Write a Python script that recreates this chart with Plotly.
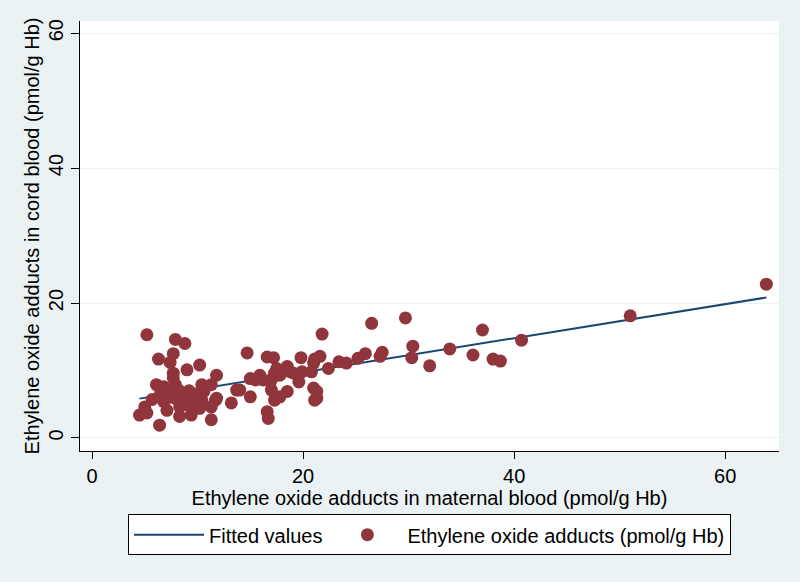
import numpy as np
import plotly.graph_objects as go

# maternal blood (x) and cord blood (y) ethylene oxide adducts, pmol/g Hb
maternal = [63.9, 51.0, 40.7, 37.0, 38.0, 38.7, 36.1, 33.9, 32.0, 30.4, 30.3, 29.7, 27.5, 27.3, 26.5,
            25.9, 25.2, 24.1, 23.4, 22.4, 21.8, 21.6, 21.1, 21.0, 20.8, 21.0, 21.3, 21.1, 21.3, 19.8,
            19.9, 19.6, 19.1, 18.8, 18.5, 18.5, 17.8, 17.5, 17.3, 17.2, 17.2, 16.6, 16.9, 16.2, 15.9,
            15.5, 15.0, 17.8, 17.3, 17.0, 15.0, 14.0, 16.6, 16.7, 14.7,
            5.2, 7.9, 8.8, 7.7, 6.3, 7.4, 10.2, 9.0, 11.8, 7.7, 7.7, 6.1, 6.8, 7.9, 8.2, 10.4, 11.3,
            10.6, 13.7, 11.8, 13.2, 5.7, 5.0, 4.5, 5.2, 6.4, 8.3, 9.4, 11.3, 7.1, 8.3, 9.3, 10.2, 11.3,
            10.4, 11.7,
            8.5, 9.0, 9.5, 8.0, 9.8, 8.7, 7.5, 9.2, 6.8, 7.3, 9.9, 8.4, 6.5, 7.0]
cord = [22.8, 18.1, 14.5, 16.0, 11.7, 11.4, 12.3, 13.2, 10.7, 13.6, 11.9, 17.8, 12.7, 12.1, 17.0,
        12.5, 11.8, 11.1, 11.3, 10.3, 15.4, 12.1, 11.7, 11.1, 9.8, 7.4, 6.9, 5.6, 5.9, 11.9,
        9.8, 8.3, 9.6, 9.8, 10.6, 6.9, 9.3, 10.3, 9.6, 9.1, 11.9, 12.0, 8.3, 8.6, 9.3,
        8.6, 8.8, 6.1, 5.6, 7.1, 6.1, 7.1, 3.9, 2.9, 12.6,
        15.3, 14.6, 14.0, 12.5, 11.7, 11.2, 10.8, 10.1, 9.3, 9.6, 8.9, 7.9, 7.6, 7.9, 7.1, 7.9, 7.9,
        6.9, 7.1, 5.9, 5.2, 5.7, 4.6, 3.4, 3.7, 1.9, 3.2, 3.4, 2.7, 4.1, 4.6, 4.6, 4.4, 4.6,
        5.6, 5.6,
        6.3, 6.6, 6.0, 5.8, 5.3, 5.0, 6.5, 7.0, 5.4, 6.0, 6.5, 5.5, 6.7, 7.1]

x_ticks = [0, 20, 40, 60]
y_ticks = [0, 20, 40, 60]

mx = np.array(maternal)
cy = np.array(cord)
slope, intercept = np.polyfit(mx, cy, 1)
fit_x = np.array([mx.min(), mx.max()])
fit_y = intercept + slope * fit_x

FONT = "Arial, Liberation Sans, sans-serif"
BG = "#EAF2F3"

fig = go.Figure()
fig.add_trace(go.Scatter(x=fit_x, y=fit_y, mode="lines", name="Fitted values",
                         line=dict(color="#1a476f", width=2)))
fig.add_trace(go.Scatter(x=maternal, y=cord, mode="markers",
                         name="Ethylene oxide adducts (pmol/g Hb)",
                         marker=dict(color="#90353b", size=13, line=dict(width=0))))

fig.update_layout(
    width=800, height=582,
    paper_bgcolor=BG, plot_bgcolor="white",
    margin=dict(l=80, r=21, t=21, b=131, autoexpand=False),
    font=dict(family=FONT, size=20, color="black"),
    showlegend=True,
    legend=dict(orientation="h", x=0.5, xanchor="center", y=-0.147, yanchor="top",
                bgcolor="white", bordercolor="black", borderwidth=1,
                font=dict(size=20), traceorder="normal", itemwidth=70),
    xaxis=dict(range=[-1.14, 65.1], tickvals=x_ticks, showgrid=False, zeroline=False,
               showline=True, linecolor="black", linewidth=1, ticks="outside", ticklen=7,
               tickcolor="black", automargin=False,
               title=dict(text="Ethylene oxide adducts in maternal blood (pmol/g Hb)",
                          standoff=0, font=dict(size=20))),
    yaxis=dict(range=[-1.93, 61.8], tickvals=y_ticks, showgrid=True, gridcolor=BG, gridwidth=1,
               zeroline=False, showline=True, linecolor="black", linewidth=1, ticks="outside",
               ticklen=8, tickcolor="black", tickangle=-90, automargin=False,
               title=dict(text="Ethylene oxide adducts in cord blood (pmol/g Hb)",
                          standoff=0, font=dict(size=20))),
)

fig.write_html("out.html", config={"displayModeBar": False},
               post_script="document.body.style.margin='0';document.body.style.background='#EAF2F3';")
